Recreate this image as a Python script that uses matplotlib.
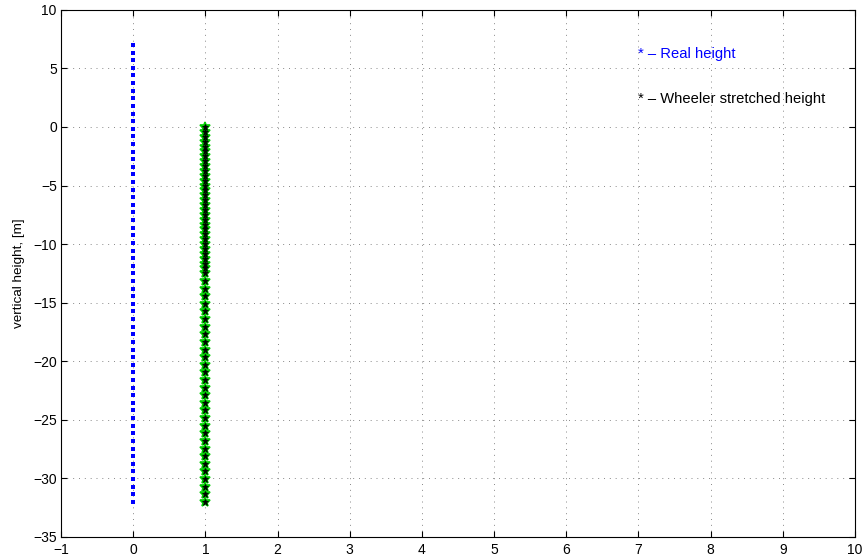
import matplotlib
matplotlib.use("Agg")
import matplotlib.pyplot as plt

plt.rcParams['font.family'] = ['Liberation Sans', 'DejaVu Sans']

# Node elevations of the real water column (x = 0)
real_x = 0
real_z = [-32.00, -31.35, -30.70, -30.05, -29.40, -28.75, -28.10, -27.45, -26.80,
          -26.15, -25.50, -24.85, -24.20, -23.55, -22.90, -22.25, -21.60, -20.95,
          -20.30, -19.65, -19.00, -18.35, -17.70, -17.05, -16.40, -15.75, -15.10,
          -14.45, -13.80, -13.15, -12.50, -11.85, -11.20, -10.55, -9.90, -9.25,
          -8.60, -7.95, -7.30, -6.65, -6.00, -5.35, -4.70, -4.05, -3.40, -2.75,
          -2.10, -1.45, -0.80, -0.15, 0.50, 1.15, 1.80, 2.45, 3.10, 3.75, 4.40,
          5.05, 5.70, 6.35, 7.00]

# Same nodes after Wheeler stretching (x = 1)
wheeler_x = 1
wheeler_z = [-32.00, -31.35, -30.70, -30.05, -29.40, -28.75, -28.10, -27.45, -26.80,
             -26.15, -25.50, -24.85, -24.20, -23.55, -22.90, -22.25, -21.60, -20.95,
             -20.30, -19.65, -19.00, -18.35, -17.70, -17.05, -16.40, -15.75, -15.10,
             -14.45, -13.80, -13.15, -12.50, -12.08, -11.67, -11.25, -10.83, -10.42,
             -10.00, -9.58, -9.17, -8.75, -8.33, -7.92, -7.50, -7.08, -6.67, -6.25,
             -5.83, -5.42, -5.00, -4.58, -4.17, -3.75, -3.33, -2.92, -2.50, -2.08,
             -1.67, -1.25, -0.83, -0.42, 0.00]

x_ticks = list(range(-1, 11))
y_ticks = list(range(-35, 11, 5))

fig = plt.figure(figsize=(8.65, 5.59), dpi=100)
ax = fig.add_axes([0.0705, 0.0394, 0.918, 0.943])

ax.plot([real_x] * len(real_z), real_z, linestyle='none', marker='s',
        markersize=3.0, color='#0000ff', markeredgewidth=0)
ax.plot([wheeler_x] * len(wheeler_z), wheeler_z, linestyle='none', marker='*',
        markersize=7, color='#00dd00', markeredgecolor='#00cc00', markeredgewidth=1.2)
ax.plot([wheeler_x] * len(wheeler_z), wheeler_z, linestyle='none', marker='*',
        markersize=4.5, color='black', markeredgecolor='black', markeredgewidth=0.6)

ax.text(7.0, 6.25, '* \u2013 Real height', color='#0000ff', fontsize=10.6,
        va='center', ha='left')
ax.text(7.0, 2.4, '* \u2013 Wheeler stretched height', color='black', fontsize=10.6,
        va='center', ha='left')

ax.set_xlim(-1, 10)
ax.set_ylim(-35, 10)
ax.set_xticks(x_ticks)
ax.set_yticks(y_ticks)
ax.set_xticklabels([str(v).replace('-', '\u2212') for v in x_ticks])
ax.set_yticklabels([str(v).replace('-', '\u2212') for v in y_ticks])
ax.tick_params(direction='in', top=True, right=True, length=4, width=0.8,
               labelsize=10, pad=3)
ax.tick_params(axis='x', pad=4)
ax.grid(True, linestyle=(0, (1, 5)), color='#888888', linewidth=0.7)
for s in ax.spines.values():
    s.set_linewidth(0.8)
    s.set_color('black')
ax.set_ylabel('vertical height, [m]', fontsize=9.7, labelpad=6)

fig.savefig('out.png', dpi=100)
